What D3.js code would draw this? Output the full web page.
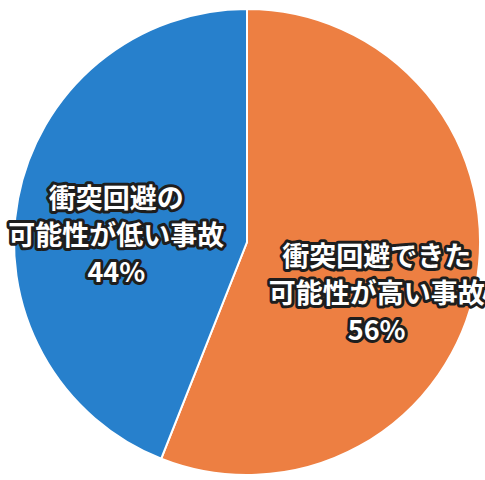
<!DOCTYPE html>
<html lang="ja">
<head>
  <meta charset="UTF-8">
  <title>衝突回避の可能性</title>
  <style>
    body { margin: 0; background: #fff; }
    .label {
      font-family: "Noto Sans CJK JP", sans-serif;
      font-weight: bold;
      font-size: 27px;
      fill: #fff;
      stroke: #1e1e1e;
      stroke-width: 6px;
      stroke-linejoin: round;
      paint-order: stroke;
      text-anchor: middle;
    }
  </style>
</head>
<body>
<div id="chart"></div>
<script src="https://d3js.org/d3.v7.min.js"></script>
<script>
  // data
  var categories = ["衝突回避できた可能性が高い事故", "衝突回避の可能性が低い事故"];
  var values = [56, 44];
  var labelLines = [
    ["衝突回避できた", "可能性が高い事故", "56%"],
    ["衝突回避の", "可能性が低い事故", "44%"]
  ];
  var colors = ["#ed7f42", "#2780cc"];

  var width = 485, height = 480;
  var cx = 247, cy = 242, radius = 233;

  var svg = d3.select("#chart").append("svg")
    .attr("width", width)
    .attr("height", height);

  var g = svg.append("g").attr("transform", "translate(" + cx + "," + cy + ")");

  var pie = d3.pie().sort(null).value(function(d) { return d; });
  var arcs = pie(values);

  var arc = d3.arc().innerRadius(0).outerRadius(radius);
  var labelArc = d3.arc().innerRadius(130).outerRadius(130);

  g.selectAll("path")
    .data(arcs)
    .enter().append("path")
    .attr("d", arc)
    .attr("fill", function(d, i) { return colors[i]; })
    .attr("stroke", "#fff")
    .attr("stroke-width", 2);

  // labels, three lines each
  var lineH = 37;
  var shiftY = [27, 18];
  g.selectAll("text.label")
    .data(arcs)
    .enter().append("text")
    .attr("class", "label")
    .each(function(d, i) {
      var c = labelArc.centroid(d);
      var t = d3.select(this);
      labelLines[i].forEach(function(s, k) {
        t.append("tspan")
          .attr("x", c[0] + (i === 0 ? 2 : -3))
          .attr("y", c[1] + shiftY[i] + (k - 1) * lineH)
          .attr("dy", "0.35em")
          .text(s);
      });
    });
</script>
</body>
</html>
